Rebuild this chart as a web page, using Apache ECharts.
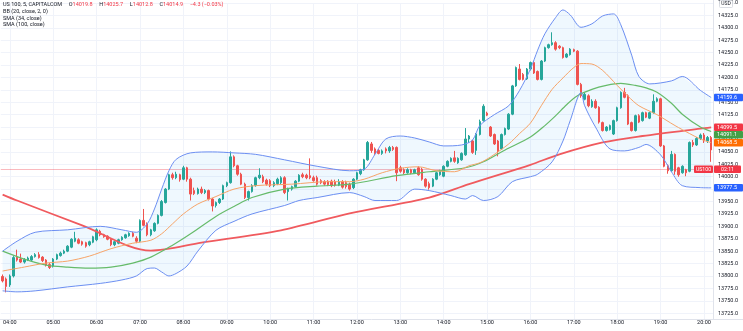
<!DOCTYPE html>
<html><head><meta charset="utf-8">
<script src="https://cdn.jsdelivr.net/npm/echarts@6/dist/echarts.min.js"></script>
<style>html,body{margin:0;padding:0;background:#fff}#c{width:743px;height:331px}</style>
</head><body><div id="c"></div>
<script>
// 5-minute bars 03:50 .. 20:10
const times = [];
for (let i = 0; i < 197; i++) { const m = 230 + 5 * i; times.push(String(Math.floor(m / 60)).padStart(2, '0') + ':' + String(m % 60).padStart(2, '0')); }

const opens = [13799,13794,13782,13800,13838,13834,13828,13832,13832,13839, 13843,13838,13832,13823,13820,13834,13841,13846,13850,13858, 13870,13873,13869,13867,13863,13868,13873,13890,13883,13880, 13874,13863,13866,13873,13877,13881,13886,13876,13870,13912, 13905,13883,13891,13906,13922,13948,13975,14004,13998,14004, 13995,14018,13995,13972,13966,13975,13968,13972,13955,13942, 13948,13955,13982,13988,14040,14022,14005,13985,13958,13970, 13982,13998,14000,13993,13992,13982,13986,13988,13998,13970, 13975,13980,13991,14004,14003,14002,13998,13998,13992,13990, 13991,13991,13990,13983,13990,13988,13985,13978,13995,14006, 14014,14034,14066,14056,14053,14047,14056,14052,14059,14059, 14018,14014,14008,14014,14008,14018,14015,13995,13986,13981, 13995,14004,14001,14021,14031,14038,14028,14034,14044,14076, 14072,14053,14085,14113,14128,14100,14085,14072,14056,14085, 14096,14126,14183,14217,14206,14197,14217,14230,14212,14196, 14233,14260,14266,14270,14263,14260,14241,14246,14256,14253, 14186,14156,14163,14141,14152,14140,14109,14093,14095,14086, 14113,14139,14170,14163,14109,14093,14123,14113,14129,14118, 14129,14152,14157,14062,14022,14012,14045,14018,14008,14014, 14011,14069,14064,14077,14084,14072,14079];
const highs = [13803,13797,13803,13840,13853,13845,13836,13839,13842,13846, 13848,13840,13834,13826,13836,13845,13849,13853,13862,13876, 13889,13876,13871,13869,13871,13881,13896,13893,13885,13882, 13876,13871,13875,13880,13885,13888,13889,13880,13914,13935, 13908,13895,13908,13924,13953,13977,14006,14008,14010,14006, 14022,14020,13998,13978,13978,13980,13975,13974,13957,13950, 13957,13984,13990,14051,14043,14024,14008,13988,13972,13985, 14000,14017,14004,13996,13995,13991,13998,14001,14001,13978, 13982,13993,14005,14008,14006,14037,14002,14002,13995,13993, 13993,13994,13994,13995,13993,13992,13988,13997,14010,14016, 14036,14072,14070,14059,14056,14055,14059,14062,14062,14061, 14022,14017,14017,14016,14016,14021,14018,13997,13990,13997, 14010,14014,14023,14033,14039,14052,14039,14049,14098,14084, 14074,14088,14115,14146,14131,14102,14087,14074,14087,14099, 14128,14185,14222,14227,14209,14219,14232,14233,14214,14235, 14262,14268,14291,14273,14265,14262,14249,14259,14258,14255, 14189,14169,14166,14156,14156,14142,14111,14102,14105,14115, 14141,14172,14179,14166,14111,14125,14126,14131,14131,14131, 14166,14160,14159,14064,14025,14052,14047,14020,14023,14016, 14071,14074,14080,14087,14088,14082,14082];
const lows = [13787,13767,13778,13797,13829,13826,13825,13830,13830,13837, 13835,13828,13819,13814,13817,13832,13839,13844,13848,13856, 13868,13864,13861,13857,13860,13866,13870,13880,13877,13872, 13860,13860,13864,13871,13875,13879,13878,13866,13868,13900, 13880,13880,13889,13904,13920,13946,13973,13994,13995,13990, 13993,13990,13952,13963,13964,13965,13965,13952,13930,13938, 13945,13953,13979,13986,14019,14002,13983,13955,13952,13968, 13980,13995,13987,13982,13979,13979,13983,13985,13965,13952, 13972,13978,13989,13997,13995,13995,13990,13982,13985,13982, 13981,13979,13980,13981,13976,13976,13972,13975,13993,14003, 14012,14032,14048,14044,14045,14044,14047,14048,14052,13991, 14008,14005,14006,14005,14006,14002,13992,13978,13974,13979, 13993,14002,13999,14019,14029,14028,14026,14032,14042,14068, 14046,14044,14083,14111,14122,14080,14064,14041,14054,14083, 14094,14124,14181,14194,14194,14195,14214,14207,14194,14194, 14231,14258,14264,14254,14257,14238,14239,14244,14251,14184, 14159,14154,14140,14139,14137,14107,14091,14091,14093,14084, 14111,14137,14158,14104,14091,14091,14108,14111,14118,14116, 14127,14150,14060,14019,14006,14010,14004,14000,14006,14001, 14009,14060,14062,14074,14068,14068,14030];
const closes = [13790,13779,13800,13837,13832,13828,13833,13836,13839,13843, 13837,13831,13822,13817,13834,13843,13846,13850,13860,13874, 13876,13866,13864,13860,13869,13879,13893,13883,13879,13874, 13863,13869,13873,13878,13883,13886,13880,13870,13912,13902, 13883,13893,13906,13922,13950,13975,14004,13998,14005,13994, 14018,13995,13965,13966,13975,13968,13972,13955,13941,13948, 13955,13982,13988,14040,14022,14005,13985,13958,13970,13982, 13998,14003,13990,13985,13982,13988,13995,13998,13968,13975, 13980,13991,14003,14000,13998,13998,13992,13985,13988,13985, 13984,13982,13983,13990,13979,13980,13975,13995,14008,14014, 14034,14069,14053,14047,14047,14052,14052,14059,14055,14008, 14011,14008,14014,14008,14014,14004,13995,13981,13978,13995, 14008,14011,14021,14031,14037,14031,14037,14047,14076,14082, 14049,14086,14111,14142,14124,14082,14066,14052,14085,14097, 14126,14183,14220,14196,14196,14217,14230,14209,14196,14233, 14260,14266,14270,14257,14260,14240,14247,14257,14253,14186, 14163,14166,14143,14152,14139,14110,14093,14100,14103,14113, 14139,14170,14160,14106,14093,14123,14110,14129,14120,14129, 14152,14157,14062,14021,14012,14045,14011,14004,14021,14008, 14069,14064,14077,14084,14072,14079,14054];

// indicator readings: [bar index, value]
const bbUpper = [[0,13850],[4,13870],[9,13888],[18,13893],[27,13900],[33,13893],[37,13888],[40,13905],[42,13935],[44,13975],[46,14012],[48,14035],[52,14048],[58,14050],[64,14048],[70,14045],[78,14034],[87,14021],[96,14012],[100,14015],[103,14045],[106,14076],[110,14082],[114,14078],[118,14070],[122,14062],[127,14064],[130,14074],[132,14103],[136,14125],[140,14143],[143,14174],[146,14217],[148,14255],[150,14288],[153,14321],[155,14336],[157,14326],[160,14301],[163,14308],[166,14324],[169,14328],[171,14306],[174,14245],[176,14202],[179,14187],[185,14193],[188,14202],[193,14174],[196,14159.6]];
const bbLower = [[0,13770],[4,13768],[9,13770],[18,13778],[27,13785],[33,13792],[37,13800],[40,13815],[42,13816],[44,13808],[46,13800],[48,13805],[51,13820],[54,13850],[59,13892],[64,13910],[69,13925],[78,13942],[82,13952],[87,13958],[96,13968],[100,13960],[103,13952],[109,13952],[114,13975],[118,13972],[124,13962],[128,13955],[130,13962],[133,13952],[137,13960],[141,13990],[146,14000],[148,14005],[152,14030],[155,14072],[157,14113],[160,14170],[161,14143],[164,14100],[168,14056],[172,14052],[176,14059],[178,14065],[182,14044],[185,14010],[188,13982],[193,13978],[196,13977.5]];
const bbBasis = [[0,13810],[6,13818],[12,13826],[18,13830],[24,13840],[30,13855],[36,13866],[41,13872],[44,13885],[47,13905],[50,13925],[54,13945],[59,13960],[64,13975],[70,13982],[80,13985],[90,13990],[96,13990],[100,13995],[105,14008],[110,14017],[115,14020],[120,14012],[125,14010],[129,14022],[132,14028],[135,14040],[140,14066],[143,14087],[146,14108],[149,14143],[152,14176],[155,14199],[158,14220],[160,14228],[163,14227],[166,14214],[170,14184],[173,14162],[176,14143],[181,14125],[186,14103],[190,14087],[193,14076],[196,14068.5]];
const sma34 = [[0,13850],[6,13834],[12,13822],[18,13818],[24,13816],[30,13818],[36,13826],[41,13838],[47,13862],[52,13885],[59,13920],[64,13940],[69,13958],[78,13975],[87,13981],[96,13985],[109,14002],[118,14010],[128,14018],[133,14030],[139,14054],[146,14080],[150,14103],[153,14123],[156,14145],[159,14163],[163,14176],[167,14184],[171,14188],[175,14184],[178,14179],[181,14170],[185,14148],[188,14126],[193,14100],[196,14091.1]];
const sma100 = [[0,13964],[4,13952],[22,13902],[41,13851],[55,13867],[77,13892],[96,13926],[118,13958],[129,13985],[146,14024],[154,14045],[166,14069],[177,14082],[193,14097],[196,14099.5]];

const lastPrice = 14014.9;
const legendTitle = 'US 100, 5, CAPITALCOM';
const legendOHLC = [['O','14019.8'],['H','14025.7'],['L','14012.8'],['C','14014.9']];
const legendChange = '\u22124.3 (\u22120.03%)';
const indicatorNames = ['BB (20, close, 2, 0)', 'SMA (34, close)', 'SMA (100, close)'];

const FONT = 'Roboto, "Noto Sans", "DejaVu Sans", sans-serif';
const UP = '#26a69a', DOWN = '#ef5350';
const chart = echarts.init(document.getElementById('c'));
const candles = times.map((t, i) => [opens[i], closes[i], lows[i], highs[i]]);
const hourCats = times.filter(t => t.endsWith(':00'));

function lineSeries(name, data, color, width, z) {
  return { name, type: 'line', data, symbol: 'none', smooth: 0.3, z, silent: true,
    lineStyle: { color, width }, clip: false };
}

chart.setOption({
  animation: false,
  backgroundColor: '#ffffff',
  grid: { left: 0, right: 30, top: 1.9, bottom: 5.4 },
  xAxis: { type: 'category', data: times, boundaryGap: true, offset: -6, z: 4,
    axisLine: { show: false }, axisTick: { show: false }, splitLine: { show: false },
    axisLabel: { interval: (idx, val) => val.endsWith(':00'), margin: 0.5, fontSize: 5.5, color: '#131722', fontFamily: FONT } },
  yAxis: { type: 'value', position: 'right', min: 13700, max: 14350, interval: 25,
    axisLine: { show: false }, axisTick: { show: false },
    splitLine: { lineStyle: { color: '#f0f3fa', width: 1 } },
    axisLabel: { margin: 5, fontSize: 5.5, color: '#131722', fontFamily: FONT, showMinLabel: false, showMaxLabel: true,
      formatter: v => v.toFixed(1) } },
  series: [
    { type: 'custom', z: 1, silent: true, clip: false, data: [[0, bbUpper[0][1]]],
      renderItem: (params, api) => {
        const pts = [];
        bbUpper.forEach(p => pts.push(api.coord(p)));
        for (let k = bbLower.length - 1; k >= 0; k--) pts.push(api.coord(bbLower[k]));
        return { type: 'polygon', shape: { points: pts }, style: { fill: 'rgba(33,150,243,0.07)' } };
      } },
    { type: 'line', data: [], z: 1, silent: true,
      markLine: { silent: true, symbol: 'none', z: 1, animation: false, label: { show: false },
        data: [
          ...hourCats.map(c => ({ xAxis: c, lineStyle: { color: '#f0f3fa', width: 1, type: 'solid' } })),
          { yAxis: lastPrice, lineStyle: { color: 'rgba(242,54,69,0.35)', width: 1, type: 'solid' } }
        ] } },
    { type: 'candlestick', data: candles, z: 2, barWidth: 2, silent: true,
      itemStyle: { color: UP, color0: DOWN, borderColor: UP, borderColor0: DOWN, borderWidth: 1 } },
    lineSeries('SMA100', sma100, '#f05a5e', 1.8, 3),
    lineSeries('SMA34', sma34, '#66bb6a', 1.2, 3),
    lineSeries('BBbasis', bbBasis, '#f7a468', 1, 3),
    lineSeries('BBupper', bbUpper, '#6c8ff2', 1, 3),
    lineSeries('BBlower', bbLower, '#6c8ff2', 1, 3)
  ]
});

// price-axis tags
const yPix = v => chart.convertToPixel({ yAxisIndex: 0 }, v);
const tags = [
  { v: bbUpper[bbUpper.length - 1][1], c: '#2962ff' },
  { v: sma100[sma100.length - 1][1], c: '#f23645' },
  { v: sma34[sma34.length - 1][1], c: '#43a047' },
  { v: bbBasis[bbBasis.length - 1][1], c: '#ff6d00' },
  { v: bbLower[bbLower.length - 1][1], c: '#2962ff' }
].map(t => Object.assign(t, { y: yPix(t.v) })).sort((a, b) => a.y - b.y);
const H = 7.5;
for (let k = 1; k < tags.length; k++) if (tags[k].y < tags[k - 1].y + H) tags[k].y = tags[k - 1].y + H;

const g = [];
g.push({ type: 'rect', z: 3, shape: { x: 0, y: 319.5, width: 743, height: 12 }, style: { fill: '#ffffff' } });
g.push({ type: 'line', z: 5, shape: { x1: 0, y1: 319.5, x2: 743, y2: 319.5 }, style: { stroke: '#e0e3eb', lineWidth: 1 } });
g.push({ type: 'line', z: 5, shape: { x1: 713.5, y1: 0, x2: 713.5, y2: 319.5 }, style: { stroke: '#e0e3eb', lineWidth: 1 } });
tags.forEach(t => {
  g.push({ type: 'rect', z: 10, shape: { x: 714, y: t.y - H / 2, width: 29, height: H, r: 1 }, style: { fill: t.c } });
  g.push({ type: 'text', z: 11, style: { x: 717, y: t.y, text: t.v.toFixed(1), fill: '#fff', fontSize: 5.5, fontFamily: FONT, verticalAlign: 'middle' } });
});
const ly = yPix(lastPrice);
g.push({ type: 'rect', z: 10, shape: { x: 694, y: ly - H / 2, width: 19, height: H, r: 1 }, style: { fill: '#f23645' } });
g.push({ type: 'text', z: 11, style: { x: 703.5, y: ly, text: 'US100', fill: '#fff', fontSize: 5.2, fontFamily: FONT, align: 'center', verticalAlign: 'middle' } });
g.push({ type: 'rect', z: 10, shape: { x: 714, y: ly - H / 2, width: 27, height: H, r: 1 }, style: { fill: '#f23645' } });
g.push({ type: 'text', z: 11, style: { x: 727.5, y: ly, text: '02:11', fill: '#fff', fontSize: 5.2, fontFamily: FONT, align: 'center', verticalAlign: 'middle' } });
g.push({ type: 'rect', z: 10, shape: { x: 719.5, y: 0.5, width: 13, height: 7, r: 1 }, style: { fill: '#fff', stroke: '#d1d4dc', lineWidth: 0.8 } });
g.push({ type: 'text', z: 11, style: { x: 726, y: 4, text: 'USD', fill: '#131722', fontSize: 5, fontFamily: FONT, align: 'center', verticalAlign: 'middle' } });
const rich = { a: { fill: '#131722', fontSize: 5.5, fontFamily: FONT }, r: { fill: '#f23645', fontSize: 5.5, fontFamily: FONT } };
let l1 = '{a|' + legendTitle + '}';
legendOHLC.forEach(([k, v]) => { l1 += '  {a|' + k + '}{r|' + v + '}'; });
l1 += '  {r|' + legendChange + '}';
g.push({ type: 'text', z: 11, style: { x: 3, y: 4.5, text: l1, rich, verticalAlign: 'middle' } });
indicatorNames.forEach((n, k) => {
  g.push({ type: 'text', z: 11, style: { x: 3, y: 11.3 + k * 6.9, text: n, fill: '#131722', fontSize: 5.5, fontFamily: FONT, verticalAlign: 'middle' } });
});
chart.setOption({ graphic: { elements: g } });
</script>
</body></html>
